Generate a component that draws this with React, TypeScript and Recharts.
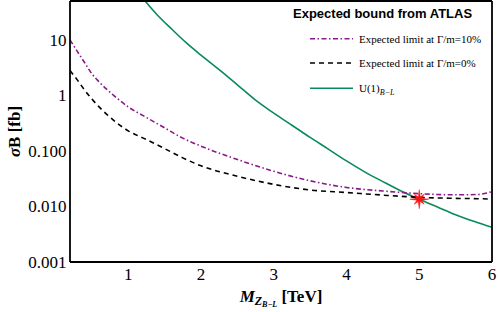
import React from "react";
import { ComposedChart, Line, Scatter, XAxis, YAxis, Legend } from "recharts";

// ---- data ----
const limitMass = [0.2, 0.3, 0.4, 0.5, 0.6, 0.8, 1.0, 1.25, 1.5, 1.75, 2.0, 2.5, 3.0, 3.5, 4.0, 4.5, 5.0, 5.5, 5.8, 6.0];
const limitWidth10 = [10, 6.2, 3.9, 2.45, 1.75, 1.0, 0.62, 0.4, 0.26, 0.17, 0.122, 0.07, 0.043, 0.029, 0.022, 0.019, 0.017, 0.0162, 0.0164, 0.0185];
const limitWidth0 = [2.8, 1.9, 1.25, 0.86, 0.62, 0.355, 0.23, 0.16, 0.11, 0.075, 0.054, 0.035, 0.025, 0.0198, 0.0178, 0.016, 0.0146, 0.014, 0.0138, 0.0136];
const modelMass = [1.2, 1.4, 1.6, 1.8, 2.0, 2.25, 2.5, 2.75, 3.0, 3.25, 3.5, 3.75, 4.0, 4.25, 4.5, 4.75, 5.0, 5.25, 5.5, 5.75, 6.0];
const modelXsec = [56, 28, 15.5, 8.8, 5.3, 2.9, 1.55, 0.82, 0.48, 0.29, 0.175, 0.108, 0.066, 0.042, 0.028, 0.019, 0.0135, 0.0098, 0.0071, 0.0054, 0.0042];
const boundMass = [5.0];
const boundXsec = [0.0135];

const xTicks = [1, 2, 3, 4, 5, 6];
const xTickLabels = ["1", "2", "3", "4", "5", "6"];
const yTicks = [0.001, 0.01, 0.1, 1, 10];
const yTickLabels = ["0.001", "0.010", "0.100", "1", "10"];
const yMinorTicks = [2, 3, 4, 5, 6, 7, 8, 9].flatMap((m) => [0.001, 0.01, 0.1, 1, 10].map((d) => m * d)).filter((v) => v <= 50);

const legendTitle = "Expected bound from ATLAS";
const seriesNames = ["Expected limit at \u0393/m=10%", "Expected limit at \u0393/m=0%", "U(1)"];
const modelSubscript = "B\u2212L";

const toPts = (xs: number[], ys: number[]) => xs.map((x, i) => ({ x, y: ys[i] }));
const data10 = toPts(limitMass, limitWidth10);
const data0 = toPts(limitMass, limitWidth0);
const dataModel = toPts(modelMass, modelXsec);
const dataStar = toPts(boundMass, boundXsec);

const PURPLE = "#8a1a8c";
const GREEN = "#0a8a5c";
const SERIF = "'Liberation Serif', 'Times New Roman', serif";
const SANS = "'Liberation Sans', Arial, sans-serif";

const Star = (props: any) => {
  const { cx, cy } = props;
  if (cx == null || cy == null) return null;
  const pts: string[] = [];
  const n = 8;
  for (let i = 0; i < n * 2; i++) {
    const ang = (Math.PI * i) / n - Math.PI / 2;
    const outer = i % 4 === 0 ? 9.5 : 7;
    const r = i % 2 === 0 ? outer : 2.6;
    pts.push(`${cx + r * Math.cos(ang)},${cy + r * Math.sin(ang)}`);
  }
  return <polygon points={pts.join(" ")} fill="#ff1010" stroke="#ff1010" strokeWidth={0.5} />;
};

const renderLegend = () => (
  <svg width={205} height={100} style={{ display: "block" }}>
    <text x={3} y={18} fontFamily={SANS} fontWeight="bold" fontSize={13} fill="#000">
      {legendTitle}
    </text>
    <line x1={20} x2={63} y1={38.7} y2={38.7} stroke={PURPLE} strokeWidth={1.5} strokeDasharray="5 2.5 1.5 2.5" />
    <text x={69} y={42.5} fontFamily={SERIF} fontSize={11} fill="#000">{seriesNames[0]}</text>
    <line x1={20} x2={63} y1={63} y2={63} stroke="#000" strokeWidth={1.5} strokeDasharray="5 4" />
    <text x={69} y={66.8} fontFamily={SERIF} fontSize={11} fill="#000">{seriesNames[1]}</text>
    <line x1={20} x2={63} y1={88.3} y2={88.3} stroke={GREEN} strokeWidth={1.5} />
    <text x={69} y={92} fontFamily={SERIF} fontSize={11} fill="#000">
      {seriesNames[2]}
      <tspan fontStyle="italic" fontSize={8} dy={2.5}>{modelSubscript}</tspan>
    </text>
  </svg>
);

const YLabel = (props: any) => {
  const vb = props.viewBox || {};
  const cx = 20;
  const cy = (vb.y ?? 0) + (vb.height ?? 0) / 2;
  return (
    <text x={cx} y={cy} transform={`rotate(-90, ${cx}, ${cy})`} textAnchor="middle" fontFamily={SERIF} fontWeight="bold" fontSize={17} fill="#000">
      <tspan fontStyle="italic">{"\u03c3"}</tspan>
      <tspan>{"B [fb]"}</tspan>
    </text>
  );
};

const XLabel = (props: any) => {
  const vb = props.viewBox || {};
  const cx = (vb.x ?? 0) + (vb.width ?? 0) / 2;
  const cy = 302;
  return (
    <text x={cx} y={cy} textAnchor="middle" fontFamily={SERIF} fontWeight="bold" fontSize={17} fill="#000">
      <tspan fontStyle="italic">M</tspan>
      <tspan fontStyle="italic" fontSize={12} dy={3}>Z</tspan>
      <tspan fontStyle="italic" fontSize={8} dy={2}>{"B\u2212L"}</tspan>
      <tspan dy={-5}>{" [TeV]"}</tspan>
    </text>
  );
};

const axisLine = { stroke: "#000", strokeWidth: 1.8 };
const tickLine = { stroke: "#000", strokeWidth: 1 };
const tickFont = { fill: "#000", fontSize: 17, fontFamily: SERIF };

export default function App() {
  return (
    <div style={{ position: "absolute", left: 0, top: 0, width: 498, height: 312, background: "#fff" }}>
      <ComposedChart width={498} height={312} margin={{ top: 1, right: 6, bottom: 0, left: 0 }}>
        <XAxis
          xAxisId="b"
          type="number"
          dataKey="x"
          domain={[0.2, 6]}
          allowDataOverflow
          ticks={xTicks}
          tickFormatter={(v: number) => xTickLabels[xTicks.indexOf(v)] ?? String(v)}
          height={50}
          tickLine={false}
          tickSize={0}
          tickMargin={6}
          axisLine={axisLine}
          tick={tickFont}
          label={<XLabel />}
        />
        <XAxis xAxisId="bm" type="number" domain={[0.2, 6]} allowDataOverflow ticks={xTicks} orientation="bottom" mirror height={1} tick={false} tickSize={4} tickLine={tickLine} axisLine={false} />
        <XAxis xAxisId="tm" type="number" domain={[0.2, 6]} allowDataOverflow ticks={xTicks} orientation="top" mirror height={1} tick={false} tickSize={4} tickLine={tickLine} axisLine={axisLine} />
        <YAxis
          yAxisId="l"
          scale="log"
          type="number"
          domain={[0.001, 50]}
          allowDataOverflow
          ticks={yTicks}
          tickFormatter={(v: number) => {
            const i = yTicks.findIndex((t) => Math.abs(t - v) < t * 1e-6);
            return i >= 0 ? yTickLabels[i] : String(v);
          }}
          width={70}
          tickLine={false}
          tickSize={0}
          tickMargin={3.5}
          axisLine={axisLine}
          tick={tickFont}
          label={<YLabel />}
        />
        <YAxis yAxisId="lm" scale="log" type="number" domain={[0.001, 50]} allowDataOverflow ticks={yTicks} mirror width={1} tick={false} tickSize={4} tickLine={tickLine} axisLine={false} />
        <YAxis yAxisId="lmm" scale="log" type="number" domain={[0.001, 50]} allowDataOverflow ticks={yMinorTicks} mirror width={1} tick={false} tickSize={2} tickLine={tickLine} axisLine={false} />
        <YAxis yAxisId="rm" orientation="right" scale="log" type="number" domain={[0.001, 50]} allowDataOverflow ticks={yTicks} mirror width={1} tick={false} tickSize={4} tickLine={tickLine} axisLine={axisLine} />
        <YAxis yAxisId="rmm" orientation="right" scale="log" type="number" domain={[0.001, 50]} allowDataOverflow ticks={yMinorTicks} mirror width={1} tick={false} tickSize={2} tickLine={tickLine} axisLine={false} />

        <Line xAxisId="b" yAxisId="l" data={dataModel} dataKey="y" type="monotone" stroke={GREEN} strokeWidth={1.6} dot={false} isAnimationActive={false} />
        <Line xAxisId="b" yAxisId="l" data={data0} dataKey="y" type="monotone" stroke="#000" strokeWidth={1.6} strokeDasharray="5 4" dot={false} isAnimationActive={false} />
        <Line xAxisId="b" yAxisId="l" data={data10} dataKey="y" type="monotone" stroke={PURPLE} strokeWidth={1.6} strokeDasharray="5 2.5 1.5 2.5" dot={false} isAnimationActive={false} />
        <Scatter xAxisId="b" yAxisId="l" data={dataStar} dataKey="y" shape={<Star />} isAnimationActive={false} />
        <Legend
          layout="vertical"
          align="center"
          verticalAlign="middle"
          content={renderLegend}
          wrapperStyle={{ position: "absolute", left: 290, top: 0, width: 205, height: 100 }}
        />
      </ComposedChart>
    </div>
  );
}
